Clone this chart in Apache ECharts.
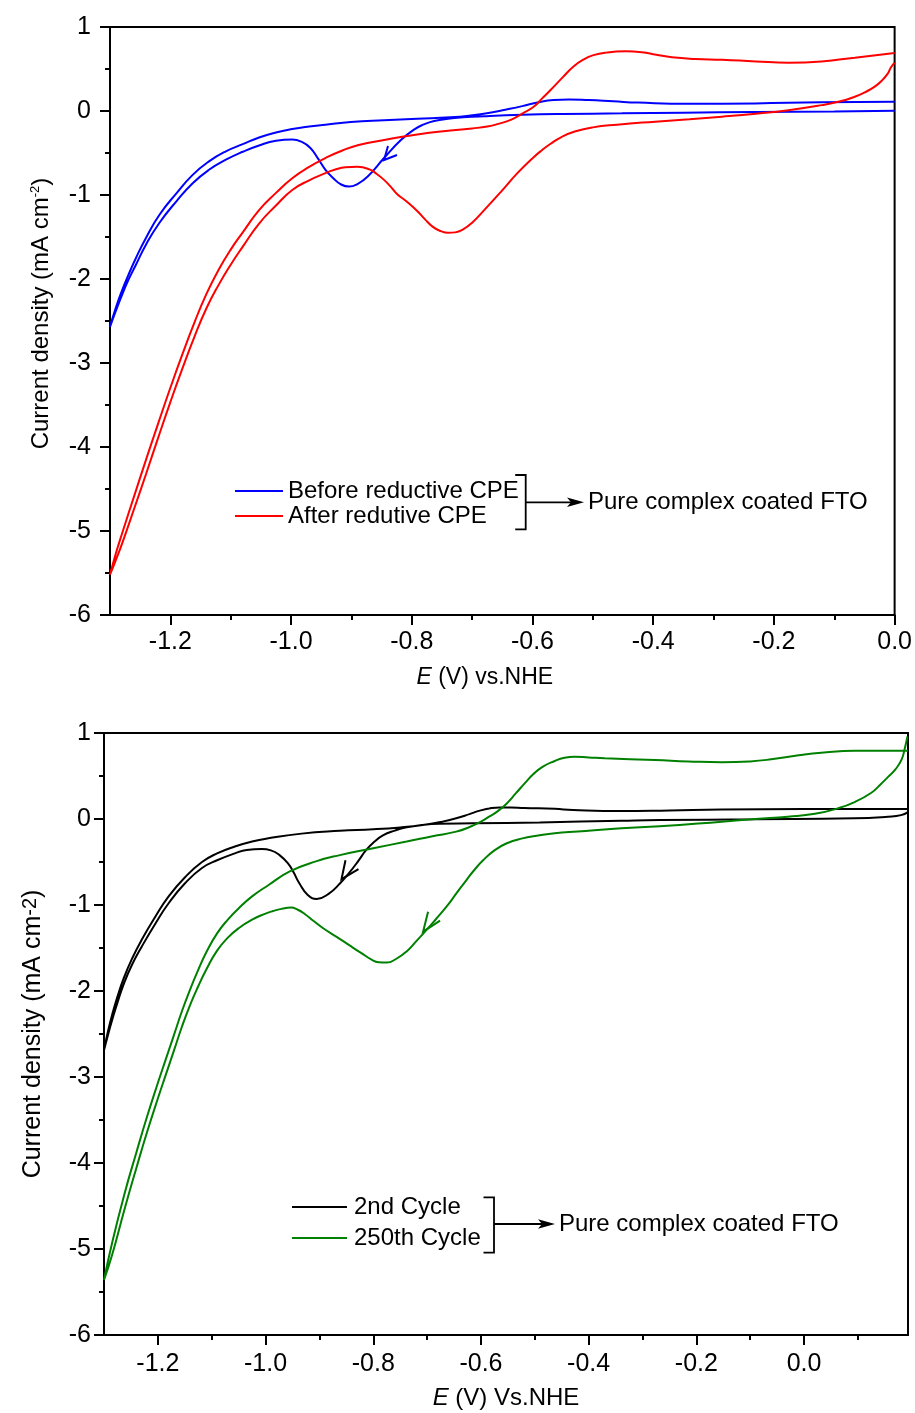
<!DOCTYPE html>
<html>
<head>
<meta charset="utf-8">
<script src="https://cdn.jsdelivr.net/npm/echarts@6/dist/echarts.min.js"></script>
<style>
html,body{margin:0;padding:0;background:#fff;}
#c{width:915px;height:1413px;}
</style>
</head>
<body>
<div id="c"></div>
<script>
// ---------- tick values ----------
const topXTicks = [-1.2, -1.0, -0.8, -0.6, -0.4, -0.2, 0.0];
const topXMinor = [-1.1, -0.9, -0.7, -0.5, -0.3, -0.1];
const botXTicks = [-1.2, -1.0, -0.8, -0.6, -0.4, -0.2, 0.0];
const botXMinor = [-1.1, -0.9, -0.7, -0.5, -0.3, -0.1, 0.1];

// ---------- series names ----------
const topNames = ['Before reductive CPE', 'After redutive CPE'];
const botNames = ['2nd Cycle', '250th Cycle'];

// ---------- data: [E (V), current density (mA cm-2)], in scan order ----------
const beforeCPE = [
[0.000,0.004],[-0.100,-0.005],[-0.231,-0.012],[-0.350,-0.020],[-0.452,-0.028],[-0.550,-0.036],[-0.617,-0.046],[-0.680,-0.062],[-0.715,-0.075],[-0.740,-0.092],[-0.763,-0.120],[-0.780,-0.160],[-0.795,-0.215],[-0.818,-0.345],[-0.846,-0.560],[-0.873,-0.780],[-0.890,-0.870],[-0.904,-0.900],[-0.917,-0.875],[-0.930,-0.800],[-0.943,-0.700],[-0.955,-0.570],[-0.968,-0.440],[-0.983,-0.365],[-0.998,-0.340],[-1.025,-0.355],[-1.053,-0.410],[-1.080,-0.485],[-1.108,-0.580],[-1.136,-0.700],[-1.163,-0.860],[-1.190,-1.075],[-1.218,-1.330],[-1.240,-1.585],[-1.257,-1.830],[-1.270,-2.020],[-1.280,-2.190],[-1.290,-2.375],[-1.300,-2.570],
[-1.290,-2.335],[-1.280,-2.135],[-1.270,-1.960],[-1.257,-1.750],[-1.240,-1.505],[-1.218,-1.235],[-1.190,-0.980],[-1.163,-0.760],[-1.136,-0.600],[-1.108,-0.480],[-1.080,-0.395],[-1.053,-0.315],[-1.025,-0.255],[-0.998,-0.215],[-0.970,-0.185],[-0.940,-0.160],[-0.901,-0.132],[-0.846,-0.110],[-0.791,-0.092],[-0.736,-0.075],[-0.700,-0.052],[-0.673,-0.025],[-0.645,0.015],[-0.617,0.058],[-0.590,0.105],[-0.565,0.132],[-0.540,0.138],[-0.507,0.130],[-0.466,0.115],[-0.425,0.100],[-0.342,0.085],[-0.231,0.090],[-0.121,0.105],[0.000,0.110]
];
const afterCPE = [
[0.000,0.575],[-0.006,0.520],[-0.011,0.450],[-0.020,0.370],[-0.033,0.290],[-0.050,0.220],[-0.066,0.170],[-0.090,0.115],[-0.121,0.070],[-0.176,0.010],[-0.230,-0.032],[-0.286,-0.068],[-0.340,-0.098],[-0.397,-0.127],[-0.460,-0.163],[-0.500,-0.195],[-0.530,-0.245],[-0.552,-0.310],[-0.570,-0.390],[-0.585,-0.470],[-0.598,-0.550],[-0.625,-0.740],[-0.652,-0.960],[-0.680,-1.180],[-0.700,-1.330],[-0.715,-1.410],[-0.728,-1.445],[-0.740,-1.450],[-0.752,-1.430],[-0.765,-1.380],[-0.778,-1.290],[-0.791,-1.190],[-0.808,-1.080],[-0.824,-0.990],[-0.835,-0.900],[-0.846,-0.820],[-0.858,-0.750],[-0.870,-0.695],[-0.890,-0.665],[-0.910,-0.670],[-0.928,-0.700],[-0.943,-0.740],[-0.970,-0.825],[-0.998,-0.940],[-1.025,-1.125],[-1.053,-1.340],[-1.080,-1.615],[-1.100,-1.830],[-1.120,-2.070],[-1.140,-2.345],[-1.160,-2.685],[-1.180,-3.065],[-1.200,-3.465],[-1.220,-3.885],[-1.240,-4.315],[-1.260,-4.735],[-1.280,-5.150],[-1.290,-5.340],[-1.300,-5.520],
[-1.290,-5.260],[-1.280,-5.030],[-1.260,-4.585],[-1.240,-4.145],[-1.220,-3.715],[-1.200,-3.295],[-1.180,-2.895],[-1.160,-2.515],[-1.140,-2.175],[-1.120,-1.890],[-1.100,-1.650],[-1.080,-1.445],[-1.053,-1.180],[-1.025,-0.975],[-0.998,-0.800],[-0.970,-0.665],[-0.943,-0.560],[-0.915,-0.470],[-0.888,-0.405],[-0.846,-0.345],[-0.791,-0.280],[-0.736,-0.232],[-0.700,-0.207],[-0.675,-0.185],[-0.655,-0.150],[-0.636,-0.105],[-0.617,-0.030],[-0.598,0.050],[-0.584,0.150],[-0.570,0.250],[-0.550,0.400],[-0.532,0.530],[-0.515,0.615],[-0.499,0.665],[-0.479,0.695],[-0.446,0.710],[-0.419,0.700],[-0.395,0.670],[-0.369,0.640],[-0.330,0.620],[-0.286,0.610],[-0.230,0.590],[-0.176,0.575],[-0.121,0.590],[-0.066,0.635],[0.000,0.690]
];
const cycle2 = [
[0.193,0.080],[0.180,0.045],[0.156,0.027],[0.094,0.008],[-0.092,-0.004],[-0.268,-0.012],[-0.339,-0.020],[-0.491,-0.040],[-0.615,-0.050],[-0.677,-0.055],[-0.710,-0.070],[-0.738,-0.097],[-0.760,-0.135],[-0.782,-0.190],[-0.798,-0.265],[-0.813,-0.360],[-0.828,-0.490],[-0.844,-0.620],[-0.862,-0.750],[-0.883,-0.870],[-0.905,-0.930],[-0.922,-0.880],[-0.937,-0.750],[-0.948,-0.620],[-0.958,-0.520],[-0.974,-0.420],[-0.990,-0.365],[-1.007,-0.350],[-1.035,-0.360],[-1.057,-0.400],[-1.090,-0.480],[-1.118,-0.570],[-1.150,-0.750],[-1.180,-0.980],[-1.205,-1.220],[-1.230,-1.485],[-1.248,-1.695],[-1.263,-1.915],[-1.275,-2.135],[-1.285,-2.340],[-1.293,-2.520],[-1.300,-2.690],
[-1.293,-2.480],[-1.285,-2.280],[-1.275,-2.065],[-1.263,-1.845],[-1.248,-1.625],[-1.230,-1.405],[-1.205,-1.140],[-1.180,-0.900],[-1.150,-0.680],[-1.118,-0.500],[-1.090,-0.400],[-1.057,-0.320],[-1.025,-0.262],[-0.995,-0.225],[-0.933,-0.170],[-0.862,-0.138],[-0.800,-0.120],[-0.750,-0.098],[-0.708,-0.070],[-0.675,-0.035],[-0.646,0.008],[-0.620,0.060],[-0.602,0.097],[-0.585,0.122],[-0.565,0.135],[-0.545,0.135],[-0.520,0.128],[-0.463,0.118],[-0.429,0.105],[-0.339,0.093],[-0.250,0.100],[-0.153,0.110],[0.000,0.115],[0.193,0.116]
];
const cycle250 = [
[0.192,0.960],[0.187,0.820],[0.181,0.690],[0.170,0.580],[0.156,0.490],[0.140,0.390],[0.125,0.305],[0.095,0.200],[0.063,0.124],[0.020,0.060],[-0.030,0.027],[-0.090,0.000],[-0.153,-0.031],[-0.268,-0.085],[-0.339,-0.108],[-0.420,-0.145],[-0.463,-0.166],[-0.491,-0.190],[-0.525,-0.228],[-0.553,-0.285],[-0.575,-0.365],[-0.596,-0.480],[-0.612,-0.590],[-0.627,-0.710],[-0.645,-0.860],[-0.664,-1.020],[-0.683,-1.160],[-0.701,-1.290],[-0.720,-1.420],[-0.738,-1.540],[-0.757,-1.625],[-0.775,-1.670],[-0.790,-1.665],[-0.803,-1.635],[-0.822,-1.560],[-0.844,-1.470],[-0.868,-1.370],[-0.893,-1.270],[-0.912,-1.180],[-0.926,-1.110],[-0.940,-1.055],[-0.953,-1.030],[-0.970,-1.045],[-0.986,-1.070],[-1.000,-1.100],[-1.025,-1.170],[-1.050,-1.270],[-1.070,-1.380],[-1.090,-1.530],[-1.110,-1.750],[-1.125,-1.945],[-1.140,-2.160],[-1.155,-2.410],[-1.170,-2.690],[-1.185,-2.970],[-1.200,-3.250],[-1.220,-3.640],[-1.240,-4.060],[-1.262,-4.540],[-1.285,-5.070],[-1.300,-5.360],
[-1.285,-4.930],[-1.262,-4.360],[-1.240,-3.880],[-1.220,-3.460],[-1.200,-3.070],[-1.185,-2.790],[-1.170,-2.510],[-1.155,-2.230],[-1.140,-1.980],[-1.125,-1.755],[-1.110,-1.550],[-1.090,-1.330],[-1.070,-1.170],[-1.050,-1.040],[-1.025,-0.900],[-0.995,-0.770],[-0.955,-0.610],[-0.905,-0.490],[-0.862,-0.420],[-0.800,-0.340],[-0.738,-0.262],[-0.690,-0.200],[-0.646,-0.147],[-0.620,-0.090],[-0.600,-0.030],[-0.584,0.030],[-0.568,0.095],[-0.553,0.175],[-0.535,0.300],[-0.518,0.420],[-0.503,0.520],[-0.485,0.610],[-0.463,0.675],[-0.445,0.712],[-0.426,0.725],[-0.400,0.716],[-0.370,0.705],[-0.277,0.686],[-0.215,0.670],[-0.153,0.660],[-0.100,0.670],[-0.061,0.694],[-0.010,0.740],[0.032,0.770],[0.094,0.795],[0.193,0.795]
];

// scan-direction arrow tips (data coords) on the curves
const arrowTips = [
  {grid: 0, at: [-0.846, -0.583], color: '#0000ff', arms: [[13, -5], [4, -14]]},
  {grid: 1, at: [-0.859, -0.700], color: '#000000', arms: [[17, -10], [4, -19]]},
  {grid: 1, at: [-0.7075, -1.310], color: '#008000', arms: [[17, -11], [5, -20]]}
];

const FONT = 'Liberation Sans, Arial, Helvetica, sans-serif';
const chart = echarts.init(document.getElementById('c'), null, {renderer: 'canvas'});

function mainX(gi, min, max, ticks, margin, nameText, namePad, fs) {
  return {
    type: 'value', gridIndex: gi, position: 'bottom', min: min, max: max,
    axisLine: {show: true, onZero: false, lineStyle: {color: '#000', width: 2}},
    axisTick: {show: true, customValues: ticks, length: 10, lineStyle: {color: '#000', width: 2}},
    axisLabel: {show: true, customValues: ticks, margin: margin, color: '#000', fontSize: 25, fontFamily: FONT,
      formatter: v => v.toFixed(1)},
    splitLine: {show: false},
    name: nameText, nameLocation: 'middle', nameGap: 51,
    nameTextStyle: {color: '#000', fontFamily: FONT, fontSize: fs, padding: namePad,
      rich: {i: {fontStyle: 'italic', fontSize: fs, fontFamily: FONT, color: '#000'},
             m: {fontSize: fs, fontFamily: FONT, color: '#000'}}}
  };
}
function minorX(gi, min, max, ticks) {
  return {
    type: 'value', gridIndex: gi, position: 'bottom', min: min, max: max,
    axisLine: {show: false, onZero: false},
    axisTick: {show: true, customValues: ticks, length: 5, lineStyle: {color: '#000', width: 2}},
    axisLabel: {show: false}, splitLine: {show: false}
  };
}
function mainY(gi, margin, nameGap, supSize, mainSize, lh, pad) {
  return {
    type: 'value', gridIndex: gi, position: 'left', min: -6, max: 1, interval: 1,
    axisLine: {show: true, onZero: false, lineStyle: {color: '#000', width: 2}},
    axisTick: {show: true, length: 10, lineStyle: {color: '#000', width: 2}},
    minorTick: {show: true, splitNumber: 2, length: 5, lineStyle: {color: '#000', width: 2}},
    axisLabel: {margin: margin, color: '#000', fontSize: 25, fontFamily: FONT, formatter: v => String(v)},
    splitLine: {show: false}, minorSplitLine: {show: false},
    name: '{m|Current density (mA cm}{s|-2}{m|)}', nameLocation: 'middle', nameRotate: 90, nameGap: nameGap,
    nameTextStyle: {color: '#000', fontFamily: FONT, fontSize: mainSize, padding: pad,
      rich: {
        m: {fontSize: mainSize, fontFamily: FONT, color: '#000', lineHeight: mainSize, verticalAlign: 'bottom'},
        s: {fontSize: supSize, fontFamily: FONT, color: '#000', lineHeight: supSize, verticalAlign: 'top',
            padding: [0, 0, lh - supSize, 0]}
      }}
  };
}
function cv(name, data, color, xi, yi) {
  return {
    name: name, type: 'line', data: data, xAxisIndex: xi, yAxisIndex: yi,
    symbol: 'none', showSymbol: false, smooth: 0.5, clip: true,
    lineStyle: {color: color, width: 2}, itemStyle: {color: color}, emphasis: {disabled: true}, z: 3
  };
}

const option = {
  backgroundColor: '#fff',
  animation: false,
  grid: [
    {left: 110, top: 27, width: 785, height: 588, show: true, borderColor: '#000', borderWidth: 2, backgroundColor: 'transparent'},
    {left: 104, top: 733, width: 804, height: 602, show: true, borderColor: '#000', borderWidth: 2, backgroundColor: 'transparent'}
  ],
  xAxis: [
    mainX(0, -1.3, 0, topXTicks, 15, '{i|E}{m| (V) vs.NHE}', [0, 35, 0, 0], 23),
    minorX(0, -1.3, 0, topXMinor),
    mainX(1, -1.3, 0.193, botXTicks, 17, '{i|E}{m| (V) Vs.NHE}', [0, 0, 0, 0], 24),
    minorX(1, -1.3, 0.193, botXMinor)
  ],
  yAxis: [
    mainY(0, 19, 57, 13, 24, 28, [0, 0, 0, 15]),
    mainY(1, 13, 57, 20, 25, 37, [0, 0, 0, 0])
  ],
  legend: [
    {data: topNames, orient: 'vertical', left: 235, top: 479, padding: 0, icon: 'rect', itemWidth: 48, itemHeight: 2, itemGap: 1,
     selectedMode: false, textStyle: {fontSize: 24, fontFamily: FONT, color: '#000', lineHeight: 22}},
    {data: botNames, orient: 'vertical', left: 292, top: 1195, padding: 0, icon: 'rect', itemWidth: 55, itemHeight: 2, itemGap: 7,
     selectedMode: false, textStyle: {fontSize: 24, fontFamily: FONT, color: '#000', lineHeight: 24, padding: [0, 0, 0, 2]}}
  ],
  series: [
    cv(topNames[0], beforeCPE, '#0000ff', 0, 0),
    cv(topNames[1], afterCPE, '#ff0000', 0, 0),
    cv(botNames[0], cycle2, '#000000', 2, 1),
    cv(botNames[1], cycle250, '#008000', 2, 1)
  ]
};
chart.setOption(option);

// ---------- annotations ----------
const g = [];
function bracketArrow(xb, yTop, yBot, tickL, yArr, xTip, label) {
  g.push({type: 'polyline', silent: true, z: 10,
    shape: {points: [[xb - tickL, yTop], [xb, yTop], [xb, yBot], [xb - tickL, yBot]]},
    style: {stroke: '#000', lineWidth: 1.8, fill: null}});
  g.push({type: 'line', silent: true, z: 10,
    shape: {x1: xb, y1: yArr, x2: xTip - 8, y2: yArr}, style: {stroke: '#000', lineWidth: 1.8}});
  g.push({type: 'polygon', silent: true, z: 10,
    shape: {points: [[xTip - 17, yArr - 4.8], [xTip, yArr], [xTip - 17, yArr + 4.8], [xTip - 13, yArr]]},
    style: {fill: '#000'}});
  g.push({type: 'text', silent: true, z: 10,
    style: {text: label, x: xTip + 4, y: yArr, fontSize: 24, fontFamily: FONT, fill: '#000',
            textAlign: 'left', verticalAlign: 'middle'}});
}
bracketArrow(525.7, 475, 529.3, 10.5, 502.3, 584, 'Pure complex coated FTO');
bracketArrow(494, 1197.3, 1252.7, 10.5, 1224, 555, 'Pure complex coated FTO');

arrowTips.forEach(a => {
  const p = chart.convertToPixel({xAxisIndex: a.grid === 0 ? 0 : 2, yAxisIndex: a.grid}, a.at);
  g.push({type: 'polyline', silent: true, z: 10,
    shape: {points: [[p[0] + a.arms[0][0], p[1] + a.arms[0][1]], [p[0], p[1]], [p[0] + a.arms[1][0], p[1] + a.arms[1][1]]]},
    style: {stroke: a.color, lineWidth: 2, fill: null}});
});
chart.setOption({graphic: g});
</script>
</body>
</html>
